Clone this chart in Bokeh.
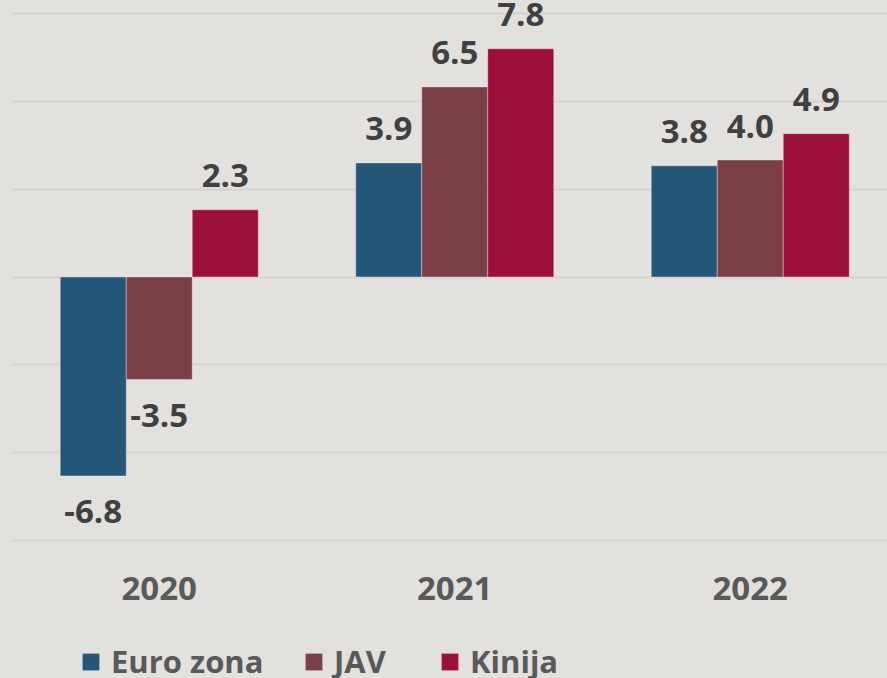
from bokeh.plotting import figure
from bokeh.layouts import column
from bokeh.models import Range1d, FixedTicker, Legend, LegendItem, ColumnDataSource
from bokeh.core.properties import value
from bokeh.embed import file_html
from bokeh.resources import INLINE

years = ["2020", "2021", "2022"]
series = ["Euro zona", "JAV", "Kinija"]
euro_zona = [-6.8, 3.9, 3.8]
jav = [-3.5, 6.5, 4.0]
kinija = [2.3, 7.8, 4.9]
colors = ["#245677", "#7a4046", "#9c0f3a"]
y_ticks = [-9, -6, -3, 0, 3, 6, 9]

BG = "#e3e1dd"
FONT = "Open Sans"

p = figure(width=887, height=630, frame_width=876, frame_height=546,
           output_backend="svg", toolbar_location=None, y_axis_location=None,
           x_range=Range1d(-0.5, -0.5 + 876 / 295.5),
           y_range=Range1d(-(546 - 276.5) / 29.25, 276.5 / 29.25),
           min_border_left=11, min_border_right=0, min_border_top=0,
           min_border_bottom=84)
p.background_fill_color = BG
p.border_fill_color = None
p.styles = {"background-color": BG}
p.outline_line_color = None

bw = 0.2234
offsets = [-bw, 0.0, bw]
for vals, off, col in zip([euro_zona, jav, kinija], offsets, colors):
    xs = [i + off for i in range(len(years))]
    src = ColumnDataSource(dict(x=xs, top=vals))
    p.vbar(x="x", top="top", bottom=0, width=bw, source=src,
           fill_color=col, line_color="white", line_alpha=0.35, line_width=1)
    pos = ColumnDataSource(dict(x=[x for x, v in zip(xs, vals) if v >= 0],
                                y=[v for v in vals if v >= 0],
                                t=[f"{v:.1f}" for v in vals if v >= 0]))
    neg = ColumnDataSource(dict(x=[x for x, v in zip(xs, vals) if v < 0],
                                y=[v for v in vals if v < 0],
                                t=[f"{v:.1f}" for v in vals if v < 0]))
    p.text(x="x", y="y", text="t", source=pos, text_align="center",
           text_baseline="alphabetic", y_offset=-34,
           text_font=value(FONT), text_font_style="bold",
           text_font_size="33px", text_color="#404040")
    p.text(x="x", y="y", text="t", source=neg, text_align="center",
           text_baseline="alphabetic", y_offset=36,
           text_font=value(FONT), text_font_style="bold",
           text_font_size="33px", text_color="#404040")

p.ygrid.ticker = FixedTicker(ticks=y_ticks)
p.ygrid.grid_line_color = "#d6d4d0"
p.ygrid.grid_line_width = 2
p.xgrid.grid_line_color = None

xa = p.xaxis[0]
xa.ticker = FixedTicker(ticks=list(range(len(years))))
xa.major_label_overrides = {i: y for i, y in enumerate(years)}
xa.axis_line_color = None
xa.major_tick_line_color = None
xa.minor_tick_line_color = None
xa.major_label_text_font = FONT
xa.major_label_text_font_style = "bold"
xa.major_label_text_font_size = "33px"
xa.major_label_text_color = "#595959"
xa.major_label_standoff = 24

# legend strip (separate figure so the legend is not clipped)
lg = figure(width=887, height=48, output_backend="svg", toolbar_location=None,
            x_axis_location=None, y_axis_location=None,
            x_range=Range1d(0, 1), y_range=Range1d(0, 1),
            min_border_left=0, min_border_right=0, min_border_top=0,
            min_border_bottom=0)
lg.background_fill_color = BG
lg.border_fill_color = None
lg.styles = {"background-color": BG}
lg.outline_line_color = None
lg.grid.visible = False
LEGEND_PX = [69, 292, 428]
for s, col, lx in zip(series, colors, LEGEND_PX):
    src = ColumnDataSource(dict(x=[0.5], top=[0.0]))
    r = lg.vbar(x="x", top="top", bottom=0, width=0.01, source=src,
                fill_color=col, line_color=None)
    leg = Legend(items=[LegendItem(label=s, renderers=[r])],
                 orientation="horizontal", location=(lx, -4))
    leg.background_fill_alpha = 0
    leg.border_line_alpha = 0
    leg.label_text_font = FONT
    leg.label_text_font_style = "bold"
    leg.label_text_font_size = "31px"
    leg.label_text_color = "#595959"
    leg.glyph_width = 21
    leg.glyph_height = 21
    leg.label_standoff = 10
    leg.padding = 0
    leg.margin = 0
    lg.add_layout(leg, "center")

layout = column(p, lg, spacing=0)
open("out.html", "w").write(file_html(layout, INLINE))
